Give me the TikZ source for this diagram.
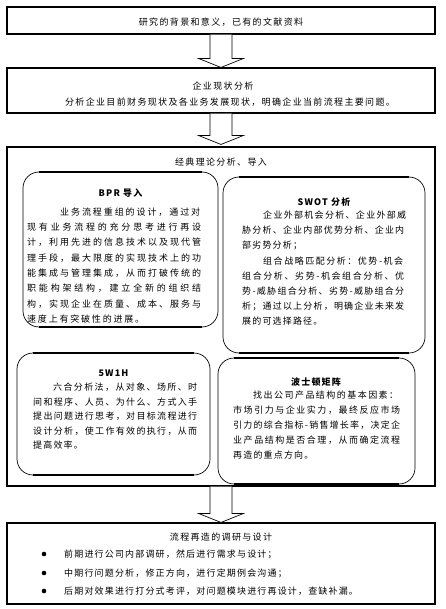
\documentclass[tikz,border=0pt]{standalone}
\usepackage{fontspec}
\newfontfamily\cjk{Noto Sans CJK SC}[LetterSpace=15]
\newfontfamily\cjkb{Noto Sans CJK SC}[LetterSpace=13]
\newfontfamily\cjkw{Noto Sans CJK SC}[LetterSpace=20]
\newfontfamily\cjkn{Noto Sans CJK SC}
\usetikzlibrary{calc}
% justify one line: glue between every two characters
\def\jst#1{\jstB#1\relax}
\def\jstB#1{#1\jstC}
\def\jstC#1{\ifx\relax#1\else\hskip0pt plus 1fil#1\expandafter\jstC\fi}
\newcommand\jline[2]{\ifnum#1=0 #2\else\hbox to #1pt{\cjkn\expandafter\jst\expandafter{#2}}\fi}
\begin{document}
\begin{tikzpicture}[x=1pt,y=-1pt,
  outerbox/.style={draw, line width=1.1pt, inner sep=0, minimum width=428pt},
  rbox/.style={draw, line width=0.7pt, rounded corners=16pt, inner sep=0},
  thickedge/.style={line width=1.8pt},
  blockarrow/.style={draw, line width=0.7pt, fill=white, line join=miter},
  body/.style={font=\cjkb\fontsize{9}{12}\selectfont, inner sep=0, anchor=base west},
  bodyw/.style={font=\cjkw\fontsize{9}{12}\selectfont, inner sep=0, anchor=base west},
  head/.style={font=\cjk\fontsize{9}{12}\selectfont, inner sep=0, anchor=base},
  ttl/.style={font=\cjkb\bfseries\fontsize{9}{12}\selectfont, inner sep=0, anchor=base},
  dot/.style={circle, fill, inner sep=0, minimum size=4.6pt}]
\useasboundingbox[fill=white] (0,0) rectangle (445,609);

% outer boxes
\node[outerbox, minimum height=27pt] (b1) at (221,20.5) {};
\node[outerbox, minimum height=45pt] (b2) at (221,90.5) {};
\node[outerbox, minimum height=339pt] (b3) at (221,316.5) {};
\node[outerbox, minimum height=81pt] (b4) at (221,563.5) {};

% block arrows
\draw[blockarrow] ($(b1.south)+(-11,0)$) -- ($(b2.north)+(-11,-9)$) -- ($(b2.north)+(-22.5,-9)$) -- (b2.north) -- ($(b2.north)+(22.5,-9)$) -- ($(b2.north)+(11,-9)$) -- ($(b1.south)+(11,0)$);
\draw[blockarrow] ($(b2.south)+(-11,0)$) -- ($(b3.north)+(-11,-11)$) -- ($(b3.north)+(-22.5,-11)$) -- ($(b3.north)+(0,-2)$) -- ($(b3.north)+(22.5,-11)$) -- ($(b3.north)+(11,-11)$) -- ($(b2.south)+(11,0)$);
\draw[blockarrow] ($(b3.south)+(-11,0)$) -- ($(b4.north)+(-11,-9)$) -- ($(b4.north)+(-22.5,-9)$) -- (b4.north) -- ($(b4.north)+(22.5,-9)$) -- ($(b4.north)+(11,-9)$) -- ($(b3.south)+(11,0)$);

% texts of outer boxes
\node[head] (t1) at (221,25.4) {研究的背景和意义，已有的文献资料};
\node[head] (t2a) at (223,89.4) {企业现状分析};
\node[head] (t2b) at (230,105.4) {分析企业目前财务现状及各业务发展现状，明确企业当前流程主要问题。};
\node[head] (t3) at (221,165.4) {经典理论分析、导入};
\node[head] (t4) at (221,540.4) {流程再造的调研与设计};

% inner rounded boxes
\node[rbox, minimum width=195pt, minimum height=155pt] (bpr) at (120.5,249.5) {};
\node[rbox, minimum width=202pt, minimum height=176pt] (swot) at (324,265) {};
\node[rbox, minimum width=193pt, minimum height=122pt] (w5) at (113.5,414) {};
\node[rbox, minimum width=197pt, minimum height=126pt] (bcg) at (316.5,421) {};
\foreach \b in {bpr,swot,w5,bcg}{
  \draw[thickedge] ($(\b.north west)+(16,0)$) -- ($(\b.north east)+(-16,0)$);
  \draw[thickedge] ($(\b.south west)+(16,0)$) -- ($(\b.south east)+(-16,0)$);
}

% BPR
\node[ttl] (bprt) at (120.5,196.4) {BPR 导入};
\foreach \x/\w/\t [count=\i] in {60/140/业务流程重组的设计，通过对,
  27/174/现有业务流程的充分思考进行再设,
  27/174/计，利用先进的信息技术以及现代管,
  27/174/理手段，最大限度的实现技术上的功,
  27/174/能集成与管理集成，从而打破传统的,
  27/174/职能构架结构，建立全新的组织结,
  27/174/构，实现企业在质量、成本、服务与,
  27/0/速度上有突破性的进展。}
  \node[bodyw] (bpr\i) at (\x,{215.4+15.3*(\i-1)}) {\jline{\w}{\t}};

% SWOT
\node[ttl] (swott) at (324,205.4) {SWOT 分析};
\foreach \x/\w/\t [count=\i] in {263/143/企业外部机会分析、企业外部威,
  242/162/胁分析、企业内部优势分析、企业内,
  242/0/部劣势分析；,
  263/140/组合战略匹配分析：优势-机会,
  242/162/组合分析、劣势-机会组合分析、优,
  242/162/势-威胁组合分析、劣势-威胁组合分,
  242/162/析；通过以上分析，明确企业未来发,
  242/0/展的可选择路径。}
  \node[body] (swot\i) at (\x,{218.4+15.2*(\i-1)}) {\jline{\w}{\t}};

% 5W1H
\node[ttl] (w5t) at (113.5,376.4) {5W1H};
\foreach \x/\w/\t [count=\i] in {53/144/六合分析法，从对象、场所、时,
  33/164/间和程序、人员、为什么、方式入手,
  33/164/提出问题进行思考，对目标流程进行,
  33/164/设计分析，使工作有效的执行，从而,
  33/0/提高效率。}
  \node[body] (w5l\i) at (\x,{390.4+14.6*(\i-1)}) {\jline{\w}{\t}};

% Boston matrix
\node[ttl] (bcgt) at (316,385.4) {波士顿矩阵};
\foreach \x/\w/\t [count=\i] in {253/145/找出公司产品结构的基本因素：,
  233/167/市场引力与企业实力，最终反应市场,
  233/167/引力的综合指标-销售增长率，决定企,
  233/167/业产品结构是否合理，从而确定流程,
  233/0/再造的重点方向。}
  \node[body] (bcg\i) at (\x,{398.4+15*(\i-1)}) {\jline{\w}{\t}};

% bottom bullets
\foreach \t/\y [count=\i] in {前期进行公司内部调研，然后进行需求与设计；/554,
  中期行问题分析，修正方向，进行定期例会沟通；/573,
  后期对效果进行打分式考评，对问题模块进行再设计，查缺补漏。/591}{
  \node[dot] (d\i) at (44,\y) {};
  \node[body] (r\i) at (64,\y+3.4) {\t};
}
\end{tikzpicture}
\end{document}
